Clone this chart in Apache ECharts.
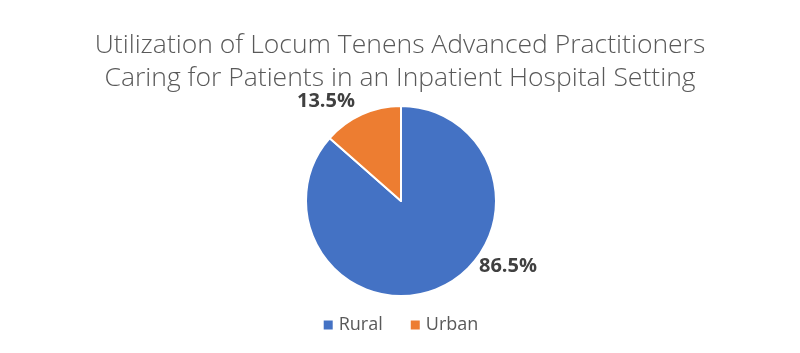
<!DOCTYPE html>
<html>
<head>
<meta charset="utf-8">
<script src="https://cdn.jsdelivr.net/npm/echarts@6/dist/echarts.min.js"></script>
<style>
  html, body { margin: 0; padding: 0; background: #fff; }
  #chart { width: 800px; height: 353px; }
</style>
</head>
<body>
<div id="chart"></div>
<script>
  var categories = ['Rural', 'Urban'];
  var shares = [86.5, 13.5];
  var colors = ['#4472C4', '#ED7D31'];
  var labelSpots = [[508, 266], [326, 101]];

  var chart = echarts.init(document.getElementById('chart'));

  var pieData = categories.map(function (name, i) {
    return { name: name, value: shares[i], itemStyle: { color: colors[i] } };
  });

  chart.setOption({
    animation: false,
    title: {
      text: 'Utilization of Locum Tenens Advanced Practitioners\nCaring for Patients in an Inpatient Hospital Setting',
      left: 'center',
      top: 24,
      textStyle: {
        fontFamily: 'Open Sans',
        fontWeight: 300,
        fontSize: 26.5,
        lineHeight: 33,
        color: '#595959'
      }
    },
    legend: {
      data: categories,
      bottom: 14,
      left: 'center',
      icon: 'rect',
      itemWidth: 11,
      itemHeight: 11,
      itemGap: 26,
      textStyle: { fontFamily: 'Open Sans', fontSize: 18, color: '#595959' }
    },
    series: [{
      type: 'pie',
      center: [401, 201],
      radius: 95,
      startAngle: 90,
      clockwise: true,
      data: pieData,
      itemStyle: { borderColor: '#fff', borderWidth: 2 },
      label: {
        show: true,
        position: 'outside',
        formatter: function (p) { return p.value.toFixed(1) + '%'; },
        fontFamily: 'Open Sans',
        fontWeight: 'bold',
        fontSize: 20,
        color: '#404040'
      },
      labelLine: { show: false },
      labelLayout: function (p) {
        var s = labelSpots[p.dataIndex];
        return { x: s[0], y: s[1], align: 'center', verticalAlign: 'middle' };
      }
    }]
  });
</script>
</body>
</html>
